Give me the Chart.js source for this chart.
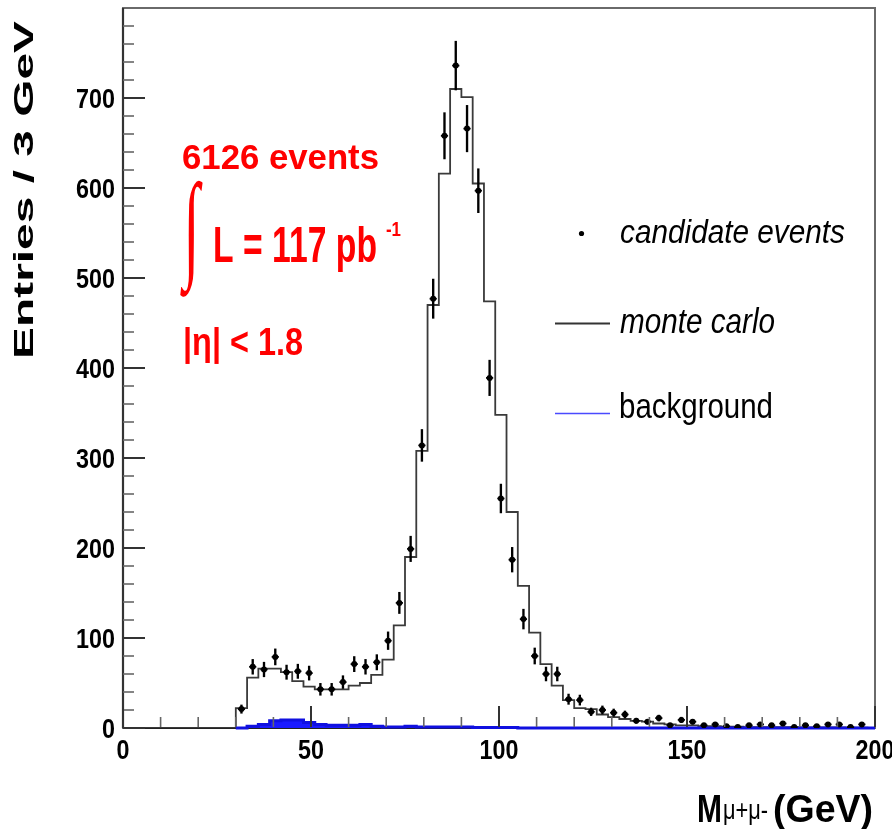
<!DOCTYPE html>
<html><head><meta charset="utf-8">
<script src="https://cdn.jsdelivr.net/npm/chart.js@4/dist/chart.umd.min.js"></script>
<style>html,body{margin:0;padding:0;background:#fff;}canvas{display:block;}</style>
</head><body>
<canvas id="c" width="892" height="829"></canvas>
<script>
// ---- data (bin width 3 GeV) ----
const binCenters = [31.5,34.5,37.5,40.5,43.5,46.5,49.5,52.5,55.5,58.5,61.5,64.5,67.5,70.5,73.5,76.5,79.5,82.5,85.5,88.5,91.5,94.5,97.5,100.5,103.5,106.5,109.5,112.5,115.5,118.5,121.5,124.5,127.5,130.5,133.5,136.5,139.5,142.5,145.5,148.5,151.5,154.5,157.5,160.5,163.5,166.5,169.5,172.5,175.5,178.5,181.5,184.5,187.5,190.5,193.5,196.5];
const binWidth = 3;
const candidateCounts = [21,68,65,79,62,63,61,43,43,51,71,68,73,97,139,199,314,477,658,736,666,597,389,255,187,121,80,60,60,32,31,18,20,17,15,8,7,11,3,9,7,3,4,2,1,3,4,3,5,1,3,2,4,4,1,4];
const candidateErrors = [4.6,8.2,8.1,8.9,7.9,7.9,7.8,6.6,6.6,7.1,8.4,8.2,8.5,9.8,11.8,14.1,17.7,21.8,25.7,27.1,25.8,24.4,19.7,16.0,13.7,11.0,8.9,7.7,7.7,5.7,5.6,4.2,4.5,4.1,3.9,2.8,2.6,3.3,1.7,3.0,2.6,1.7,2.0,1.4,1.0,1.7,2.0,1.7,2.2,1.0,1.7,1.4,2.0,2.0,1.0,2.0];
const monteCarlo = [22,56,66,66,62,52,46,43,43,43,47,50,59,76,114,190,308,470,616,710,701,605,474,348,240,158,106,71,47,31,22,21,15,12,10,8,7,5,4,3,3,2,2,1.5,1.5,1,1,1,1,1,0.8,0.8,0.6,0.6,0.5,0.5];
const background = [0,2,4,8,9,9,6,4,3,3,3,4,2,1,1,2,1,1,1,1,1,0.5,0.5,0.5,0.5,0,0,0,0,0,0,0,0,0,0,0,0,0,0,0,0,0,0,0,0,0,0,0,0,0,0,0,0,0,0,0];
const xTickLabels = [0,50,100,150,200];
const xMinorTicks = [10,20,30,40,60,70,80,90,110,120,130,140,160,170,180,190];
const yTickLabels = [0,100,200,300,400,500,600,700];
const yMinorTicks = [20,40,60,80,120,140,160,180,220,240,260,280,320,340,360,380,420,440,460,480,520,540,560,580,620,640,660,680,720,740,760,780];
const xRange = [0,200];
const yRange = [0,800];

function stepPoints(vals, fromZero){
  const pts = [];
  if (fromZero) pts.push({x: xRange[0], y: 0});
  binCenters.forEach((c,i)=>pts.push({x: c - binWidth/2, y: vals[i]}));
  const last = binCenters[binCenters.length-1] + binWidth/2;
  pts.push({x: last, y: vals[vals.length-1]});
  pts.push({x: last, y: 0});
  pts.push({x: xRange[1], y: 0});
  return pts;
}

const FAM = '"Liberation Sans", Arial, Helvetica, sans-serif';
function scaleFor(ctx, font, refText, w, refGlyph, h){
  ctx.font = font;
  const mw = ctx.measureText(refText).width;
  const gh = ctx.measureText(refGlyph).actualBoundingBoxAscent;
  return {sx: w/mw, sy: h/gh};
}
function drawScaled(ctx, txt, font, x, y, sc, align, color, rot){
  ctx.save(); ctx.translate(x,y); if (rot) ctx.rotate(rot);
  ctx.scale(sc.sx, sc.sy); ctx.font = font; ctx.textAlign = align || 'left';
  ctx.textBaseline = 'alphabetic'; ctx.fillStyle = color; ctx.fillText(txt, 0, 0); ctx.restore();
}
function fitText(ctx, txt, font, x, y, w, h, color, ref){
  const sc = scaleFor(ctx, font, txt, w, ref || 'H', h);
  drawScaled(ctx, txt, font, x, y, sc, 'left', color);
}

const decor = {
  id: 'decor',
  beforeDatasetsDraw(chart){
    const {ctx, chartArea: a} = chart;
    ctx.save();
    ctx.strokeStyle = '#6a6a6a'; ctx.lineWidth = 2;
    ctx.strokeRect(a.left, a.top, a.right-a.left, a.bottom-a.top);
    ctx.strokeStyle = '#333'; ctx.lineWidth = 2.2;
    ctx.beginPath(); ctx.moveTo(a.left, a.top); ctx.lineTo(a.left, a.bottom); ctx.stroke();
    ctx.strokeStyle = '#222'; ctx.lineWidth = 2;
    ctx.beginPath(); ctx.moveTo(a.left, a.bottom); ctx.lineTo(a.right, a.bottom); ctx.stroke();
    ctx.restore();
  },
  afterDatasetsDraw(chart){
    const {ctx, chartArea: a, scales: {x, y}} = chart;
    ctx.save();
    ctx.lineCap = 'butt';
    ctx.strokeStyle = '#666'; ctx.lineWidth = 1.6;
    xMinorTicks.forEach(v=>{const p=x.getPixelForValue(v); ctx.beginPath(); ctx.moveTo(p,a.bottom-1); ctx.lineTo(p,a.bottom-11); ctx.stroke();});
    yMinorTicks.forEach(v=>{const p=y.getPixelForValue(v); ctx.beginPath(); ctx.moveTo(a.left,p); ctx.lineTo(a.left+11,p); ctx.stroke();});
    ctx.strokeStyle = '#333'; ctx.lineWidth = 2;
    xTickLabels.forEach(v=>{const p=x.getPixelForValue(v); ctx.beginPath(); ctx.moveTo(p,a.bottom-1); ctx.lineTo(p,a.bottom-22); ctx.stroke();});
    yTickLabels.forEach(v=>{const p=y.getPixelForValue(v); ctx.beginPath(); ctx.moveTo(a.left,p); ctx.lineTo(a.left+22,p); ctx.stroke();});
    ctx.restore();
  },
  afterDraw(chart){
    const {ctx, scales: {x, y}} = chart;
    const bold = 'bold 100px ' + FAM;
    ctx.save();
    // tick labels
    const tsc = scaleFor(ctx, bold, '700', 39, '0', 19.5);
    yTickLabels.forEach(v=>{ const p = y.getPixelForValue(v); drawScaled(ctx, String(v), bold, 115, p+9.75, tsc, 'right', '#000'); });
    xTickLabels.forEach(v=>{ const p = x.getPixelForValue(v); drawScaled(ctx, String(v), bold, p, 759, tsc, 'center', '#000'); });
    // y title (rotated)
    const ysc = scaleFor(ctx, bold, 'Entries / 3 GeV', 338, 'E', 18.5);
    drawScaled(ctx, 'Entries / 3 GeV', bold, 33, 359, ysc, 'left', '#000', -Math.PI/2);
    // x title
    fitText(ctx, 'M', bold, 697, 822, 25, 27, '#000');
    fitText(ctx, 'μ+μ-', '100px ' + FAM, 723, 819, 45, 15, '#000', 'μ');
    fitText(ctx, '(GeV)', bold, 773, 822, 100, 27, '#000');
    // red annotations
    const red = '#ff0000';
    fitText(ctx, '6126 events', bold, 182, 169, 197, 24.5, red);
    ctx.font = '100px "Liberation Serif", "DejaVu Serif", serif';
    const im = ctx.measureText('∫');
    const bw = im.actualBoundingBoxLeft + im.actualBoundingBoxRight;
    const bh = im.actualBoundingBoxAscent + im.actualBoundingBoxDescent;
    const isc = {sx: 23/bw, sy: 117/bh};
    drawScaled(ctx, '∫', '100px "Liberation Serif", "DejaVu Serif", serif', 180 + im.actualBoundingBoxLeft*isc.sx, 180 + im.actualBoundingBoxAscent*isc.sy, isc, 'left', red);
    fitText(ctx, 'L = 117 pb', bold, 213, 262, 164, 35, red);
    fitText(ctx, '-1', bold, 386, 236, 15, 14, red, '1');
    fitText(ctx, '|η| < 1.8', bold, 183, 355, 120, 27, red, '1');
    // legend
    ctx.fillStyle = '#000';
    ctx.beginPath(); ctx.arc(581.5, 233.5, 2.6, 0, Math.PI*2); ctx.fill();
    fitText(ctx, 'candidate events', 'italic 100px ' + FAM, 620, 243, 225, 24, '#000', 'd');
    ctx.strokeStyle = '#333'; ctx.lineWidth = 2;
    ctx.beginPath(); ctx.moveTo(555, 323.5); ctx.lineTo(610, 323.5); ctx.stroke();
    fitText(ctx, 'monte carlo', 'italic 100px ' + FAM, 620, 333, 155, 25, '#000', 'l');
    ctx.strokeStyle = '#4a4aff'; ctx.lineWidth = 1.6;
    ctx.beginPath(); ctx.moveTo(555, 413.5); ctx.lineTo(610, 413.5); ctx.stroke();
    fitText(ctx, 'background', '100px ' + FAM, 619, 418, 154, 25, '#000', 'b');
    ctx.restore();
  }
};

const points = binCenters.map((c,i)=>({x:c, y:candidateCounts[i]}));
const errBars = binCenters.map((c,i)=>({x:c, y:[candidateCounts[i]-candidateErrors[i], candidateCounts[i]+candidateErrors[i]]}));

new Chart(document.getElementById('c').getContext('2d'), {
  type: 'scatter',
  data: { datasets: [
    { type:'line', label:'background', data: stepPoints(background, false), stepped: true,
      borderColor:'#1010e0', borderWidth:3, backgroundColor:'#1a1aff', fill:'origin', pointRadius:0, order:3,
      clip: {left: 0, right: 0, top: 0, bottom: 2} },
    { type:'line', label:'monte carlo', data: stepPoints(monteCarlo, true), stepped: true,
      borderColor:'#3a3a3a', borderWidth:1.8, fill:false, pointRadius:0, order:4 },
    { type:'bar', label:'errors', data: errBars, backgroundColor:'#000', borderWidth:0, barThickness:1.7, grouped:false, order:2 },
    { type:'scatter', label:'arms', data: points, pointStyle:'line', pointRadius:3.6, borderColor:'#000', borderWidth:1.7, order:1 },
    { type:'scatter', label:'candidate events', data: points, pointStyle:'circle', pointRadius:3, backgroundColor:'#000', borderColor:'#000', borderWidth:0, order:0 }
  ]},
  options: {
    responsive:false, animation:false, devicePixelRatio:1,
    layout: { padding: { left:123, right:17, top:8, bottom:101 } },
    plugins: { legend:{display:false}, tooltip:{enabled:false} },
    scales: {
      x: { type:'linear', min:xRange[0], max:xRange[1], display:false, offset:false },
      y: { type:'linear', min:yRange[0], max:yRange[1], display:false }
    }
  },
  plugins: [decor]
});
</script>
</body></html>
